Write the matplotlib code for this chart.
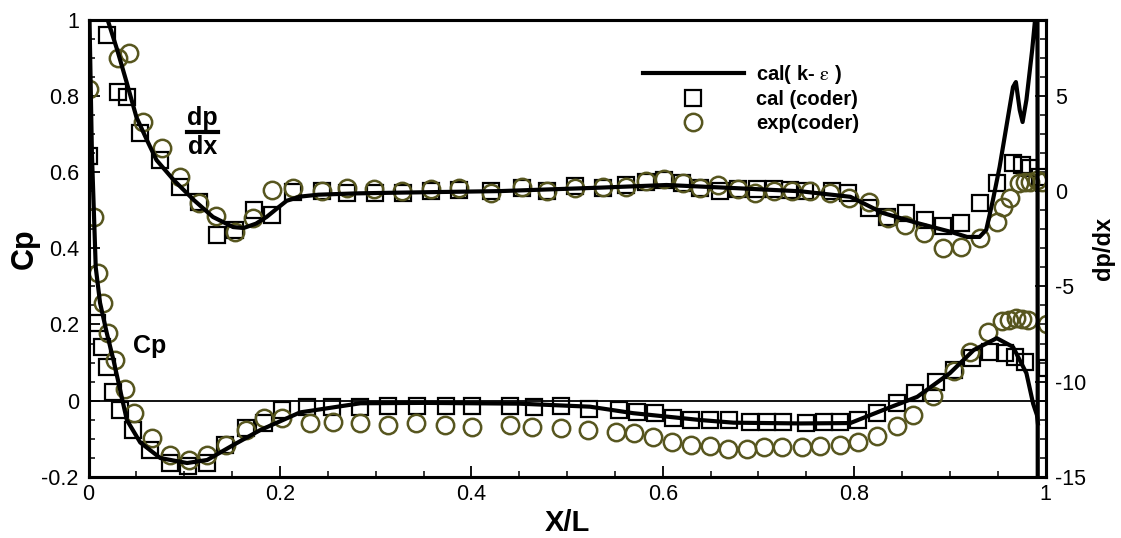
import numpy as np
import matplotlib
matplotlib.use('Agg')
import matplotlib.pyplot as plt
from matplotlib.ticker import MultipleLocator, FuncFormatter
from matplotlib.lines import Line2D

plt.rcParams['font.family'] = ['Liberation Sans', 'DejaVu Sans']
plt.rcParams['axes.unicode_minus'] = False
plt.rcParams['mathtext.fontset'] = 'stix'

# Cp, k-epsilon calculation (left axis)
cp_line_x = [0.0, 0.001, 0.0035, 0.0075, 0.012, 0.019, 0.026, 0.033, 0.040, 0.054, 0.075,
             0.103, 0.124, 0.151, 0.179, 0.221, 0.284, 0.35, 0.45, 0.524, 0.569, 0.639,
             0.674, 0.744, 0.796, 0.830, 0.866, 0.900, 0.925, 0.949, 0.966, 0.980, 0.987,
             0.991, 0.992]
cp_line_y = [1.1, 1.0, 0.65, 0.35, 0.257, 0.178, 0.107, 0.028, -0.051, -0.11, -0.151,
             -0.164, -0.156, -0.117, -0.078, -0.031, -0.007, -0.006, -0.008, -0.016, -0.033,
             -0.051, -0.058, -0.06, -0.059, -0.025, 0.01, 0.072, 0.133, 0.164, 0.141, 0.072,
             -0.008, -0.038, -0.06]

# Cp, cal (coder)
cp_sq_x = [0.0008, 0.0086, 0.0138, 0.0197, 0.026, 0.033, 0.046, 0.064, 0.085, 0.104, 0.124,
           0.143, 0.164, 0.183, 0.202, 0.228, 0.254, 0.284, 0.313, 0.343, 0.373, 0.401,
           0.440, 0.465, 0.494, 0.523, 0.554, 0.573, 0.592, 0.611, 0.630, 0.649, 0.669,
           0.691, 0.709, 0.726, 0.750, 0.768, 0.785, 0.804, 0.824, 0.845, 0.864, 0.885,
           0.904, 0.923, 0.942, 0.958, 0.968, 0.979, 1.001]
cp_sq_y = [0.643, 0.203, 0.142, 0.089, 0.023, -0.025, -0.077, -0.13, -0.165, -0.172, -0.163,
           -0.117, -0.073, -0.06, -0.025, -0.016, -0.016, -0.018, -0.014, -0.014, -0.014,
           -0.014, -0.014, -0.018, -0.014, -0.023, -0.025, -0.029, -0.033, -0.047, -0.051,
           -0.051, -0.051, -0.055, -0.055, -0.055, -0.06, -0.055, -0.055, -0.051, -0.032,
           -0.007, 0.019, 0.05, 0.08, 0.111, 0.129, 0.124, 0.115, 0.102, 0.085]

# Cp, exp (coder)
cp_ci_x = [0.0, 0.006, 0.010, 0.0155, 0.0207, 0.0277, 0.038, 0.047, 0.066, 0.085, 0.105,
           0.124, 0.144, 0.164, 0.183, 0.202, 0.231, 0.255, 0.284, 0.313, 0.342, 0.372,
           0.401, 0.440, 0.463, 0.494, 0.522, 0.551, 0.570, 0.590, 0.610, 0.630, 0.649,
           0.668, 0.688, 0.706, 0.725, 0.745, 0.764, 0.785, 0.804, 0.824, 0.845, 0.862,
           0.882, 0.904, 0.921, 0.940, 0.954, 0.962, 0.969, 0.975, 0.982, 1.001]
cp_ci_y = [0.82, 0.483, 0.335, 0.256, 0.177, 0.107, 0.031, -0.033, -0.099, -0.143, -0.156,
           -0.143, -0.117, -0.077, -0.047, -0.047, -0.06, -0.055, -0.06, -0.064, -0.06,
           -0.064, -0.07, -0.064, -0.07, -0.073, -0.076, -0.082, -0.086, -0.095, -0.108,
           -0.117, -0.119, -0.126, -0.126, -0.121, -0.121, -0.121, -0.119, -0.117, -0.11,
           -0.092, -0.066, -0.038, 0.013, 0.078, 0.129, 0.18, 0.208, 0.212, 0.216, 0.214,
           0.212, 0.2]

# dp/dx, k-epsilon calculation (right axis)
dp_line_x = [0.018, 0.020, 0.030, 0.040, 0.050, 0.061, 0.071, 0.089, 0.110, 0.130, 0.151,
             0.162, 0.175, 0.186, 0.197, 0.207, 0.221, 0.24, 0.28, 0.326, 0.430, 0.534,
             0.604, 0.674, 0.744, 0.796, 0.830, 0.866, 0.900, 0.918, 0.931, 0.938, 0.945,
             0.952, 0.959, 0.966, 0.969, 0.973, 0.976, 0.980, 0.986, 0.989, 0.9905, 0.9913,
             0.992]
dp_line_y = [10.0, 9.0, 7.42, 5.69, 3.90, 2.69, 1.64, 0.59, -0.46, -1.35, -1.88,
             -1.93, -1.7, -1.35, -0.9, -0.5, -0.28, -0.18, -0.11, -0.07, 0.01, 0.19,
             0.33, 0.17, 0.0, -0.29, -1.14, -1.67, -2.12, -2.40, -2.40, -2.03, -0.46,
             1.28, 3.38, 5.48, 5.74, 4.27, 3.64, 4.80, 7.42, 9.0, 30.0, 30.0,
             -30.0]

# dp/dx, cal (coder)
dp_sq_x = [0.019, 0.031, 0.040, 0.054, 0.075, 0.096, 0.115, 0.134, 0.153, 0.173, 0.192,
           0.214, 0.244, 0.270, 0.299, 0.329, 0.358, 0.387, 0.421, 0.453, 0.479, 0.508,
           0.538, 0.562, 0.582, 0.601, 0.620, 0.639, 0.660, 0.679, 0.698, 0.716, 0.733,
           0.749, 0.777, 0.794, 0.815, 0.834, 0.854, 0.874, 0.893, 0.912, 0.931, 0.949,
           0.966, 0.975, 0.984, 0.994]
dp_sq_y = [8.21, 5.23, 4.97, 3.04, 1.64, 0.24, -0.55, -2.30, -2.04, -0.98, -1.25,
           -0.02, 0.0, -0.11, -0.11, -0.07, 0.03, 0.07, 0.0, 0.16, 0.0, 0.28,
           0.16, 0.33, 0.50, 0.59, 0.42, 0.16, 0.0, 0.10, 0.10, 0.10, 0.07,
           0.0, 0.0, -0.11, -0.89, -1.34, -1.12, -1.51, -1.83, -1.65, -0.63, 0.42,
           1.47, 1.38, 1.21, 0.77]

# dp/dx, exp (coder)
dp_ci_x = [0.031, 0.042, 0.057, 0.077, 0.096, 0.115, 0.133, 0.153, 0.172, 0.192, 0.214,
           0.244, 0.270, 0.298, 0.328, 0.358, 0.387, 0.421, 0.453, 0.479, 0.508, 0.538,
           0.562, 0.582, 0.601, 0.621, 0.639, 0.658, 0.679, 0.696, 0.716, 0.735, 0.754,
           0.775, 0.795, 0.815, 0.835, 0.853, 0.873, 0.893, 0.912, 0.931, 0.949, 0.956,
           0.963, 0.972, 0.978, 0.984, 0.991, 0.996]
dp_ci_y = [6.99, 7.28, 3.66, 2.26, 0.77, -0.63, -1.30, -2.12, -1.42, 0.07, 0.16,
           0.0, 0.16, 0.10, 0.0, 0.10, 0.16, -0.07, 0.21, 0.03, 0.16, 0.24,
           0.24, 0.56, 0.63, 0.42, 0.16, 0.33, 0.10, -0.07, 0.0, 0.03, 0.0,
           -0.11, -0.37, -0.55, -1.42, -1.77, -2.21, -3.0, -2.91, -2.47, -1.60, -0.81,
           -0.37, 0.42, 0.50, 0.50, 0.59, 0.50]

olive = '#57561f'
sq_style = dict(linestyle='none', marker='s', markersize=12, markerfacecolor='none',
                markeredgecolor='black', markeredgewidth=1.6)
ci_style = dict(linestyle='none', marker='o', markersize=12.5, markerfacecolor='none',
                markeredgecolor=olive, markeredgewidth=1.8)

fig = plt.figure(figsize=(11.21, 5.38), dpi=100)
ax = fig.add_axes([0.0790, 0.1139, 0.8537, 0.8489])
ax2 = ax.twinx()

ax.axhline(0, color='black', lw=1.3, zorder=1)
ax.plot(cp_sq_x, cp_sq_y, **sq_style)
ax.plot(cp_ci_x, cp_ci_y, **ci_style)
ax.plot(cp_line_x, cp_line_y, color='black', lw=3)

ax2.plot(dp_sq_x, dp_sq_y, **sq_style)
ax2.plot(dp_ci_x, dp_ci_y, **ci_style)
ax2.plot(dp_line_x, dp_line_y, color='black', lw=3)

ax.set_xlim(0, 1)
ax.set_ylim(-0.2, 1)
ax2.set_ylim(-15, 9)

fmt = FuncFormatter(lambda v, p: '%g' % round(v, 3))
ax.xaxis.set_major_locator(MultipleLocator(0.2))
ax.xaxis.set_minor_locator(MultipleLocator(0.05))
ax.yaxis.set_major_locator(MultipleLocator(0.2))
ax.yaxis.set_minor_locator(MultipleLocator(0.05))
ax.xaxis.set_major_formatter(fmt)
ax.yaxis.set_major_formatter(fmt)
ax2.yaxis.set_major_locator(MultipleLocator(5))
ax2.yaxis.set_minor_locator(MultipleLocator(1))
ax2.yaxis.set_major_formatter(fmt)

for a in (ax, ax2):
    a.tick_params(which='major', direction='in', length=8, width=1.3, labelsize=15.5, pad=7)
    a.tick_params(which='minor', direction='in', length=4.5, width=1.1)
    for s in a.spines.values():
        s.set_linewidth(2.2)
ax.tick_params(axis='x', pad=5)
ax.tick_params(top=False, right=False, which='both')

ax.set_xlabel('X/L', fontsize=21, fontweight='bold')
ax.xaxis.set_label_coords(0.5, -0.070)
ax.set_ylabel('Cp', fontsize=22, fontweight='bold')
ax.yaxis.set_label_coords(-0.051, 0.5)
ax2.set_ylabel('dp/dx', fontsize=17, fontweight='bold')
ax2.yaxis.set_label_coords(1.049, 0.5)

# in-plot annotations
ax.text(0.064, 0.143, 'Cp', fontsize=18, fontweight='bold', ha='center', va='center')
ax.text(0.119, 0.712, 'dp', fontsize=18, fontweight='bold', ha='center', va='bottom')
ax.text(0.119, 0.699, 'dx', fontsize=18, fontweight='bold', ha='center', va='top')
ax.add_line(Line2D([0.103, 0.135], [0.706, 0.706], transform=ax.transData,
                   color='black', lw=3))

handles = [Line2D([], [], color='black', lw=3),
           Line2D([], [], **sq_style),
           Line2D([], [], **ci_style)]
labels = ['cal( k- $\\mathrm{\\varepsilon}$ )', 'cal (coder)', 'exp(coder)']
leg = fig.legend(handles, labels, loc='upper left', bbox_to_anchor=(643 / 1121, 1 - 63 / 538),
                 frameon=False, borderpad=0, borderaxespad=0, handlelength=5.0,
                 handletextpad=0.6, labelspacing=0.22, numpoints=1,
                 prop={'size': 14.5, 'weight': 'bold'})

fig.savefig('out.png', dpi=100)
